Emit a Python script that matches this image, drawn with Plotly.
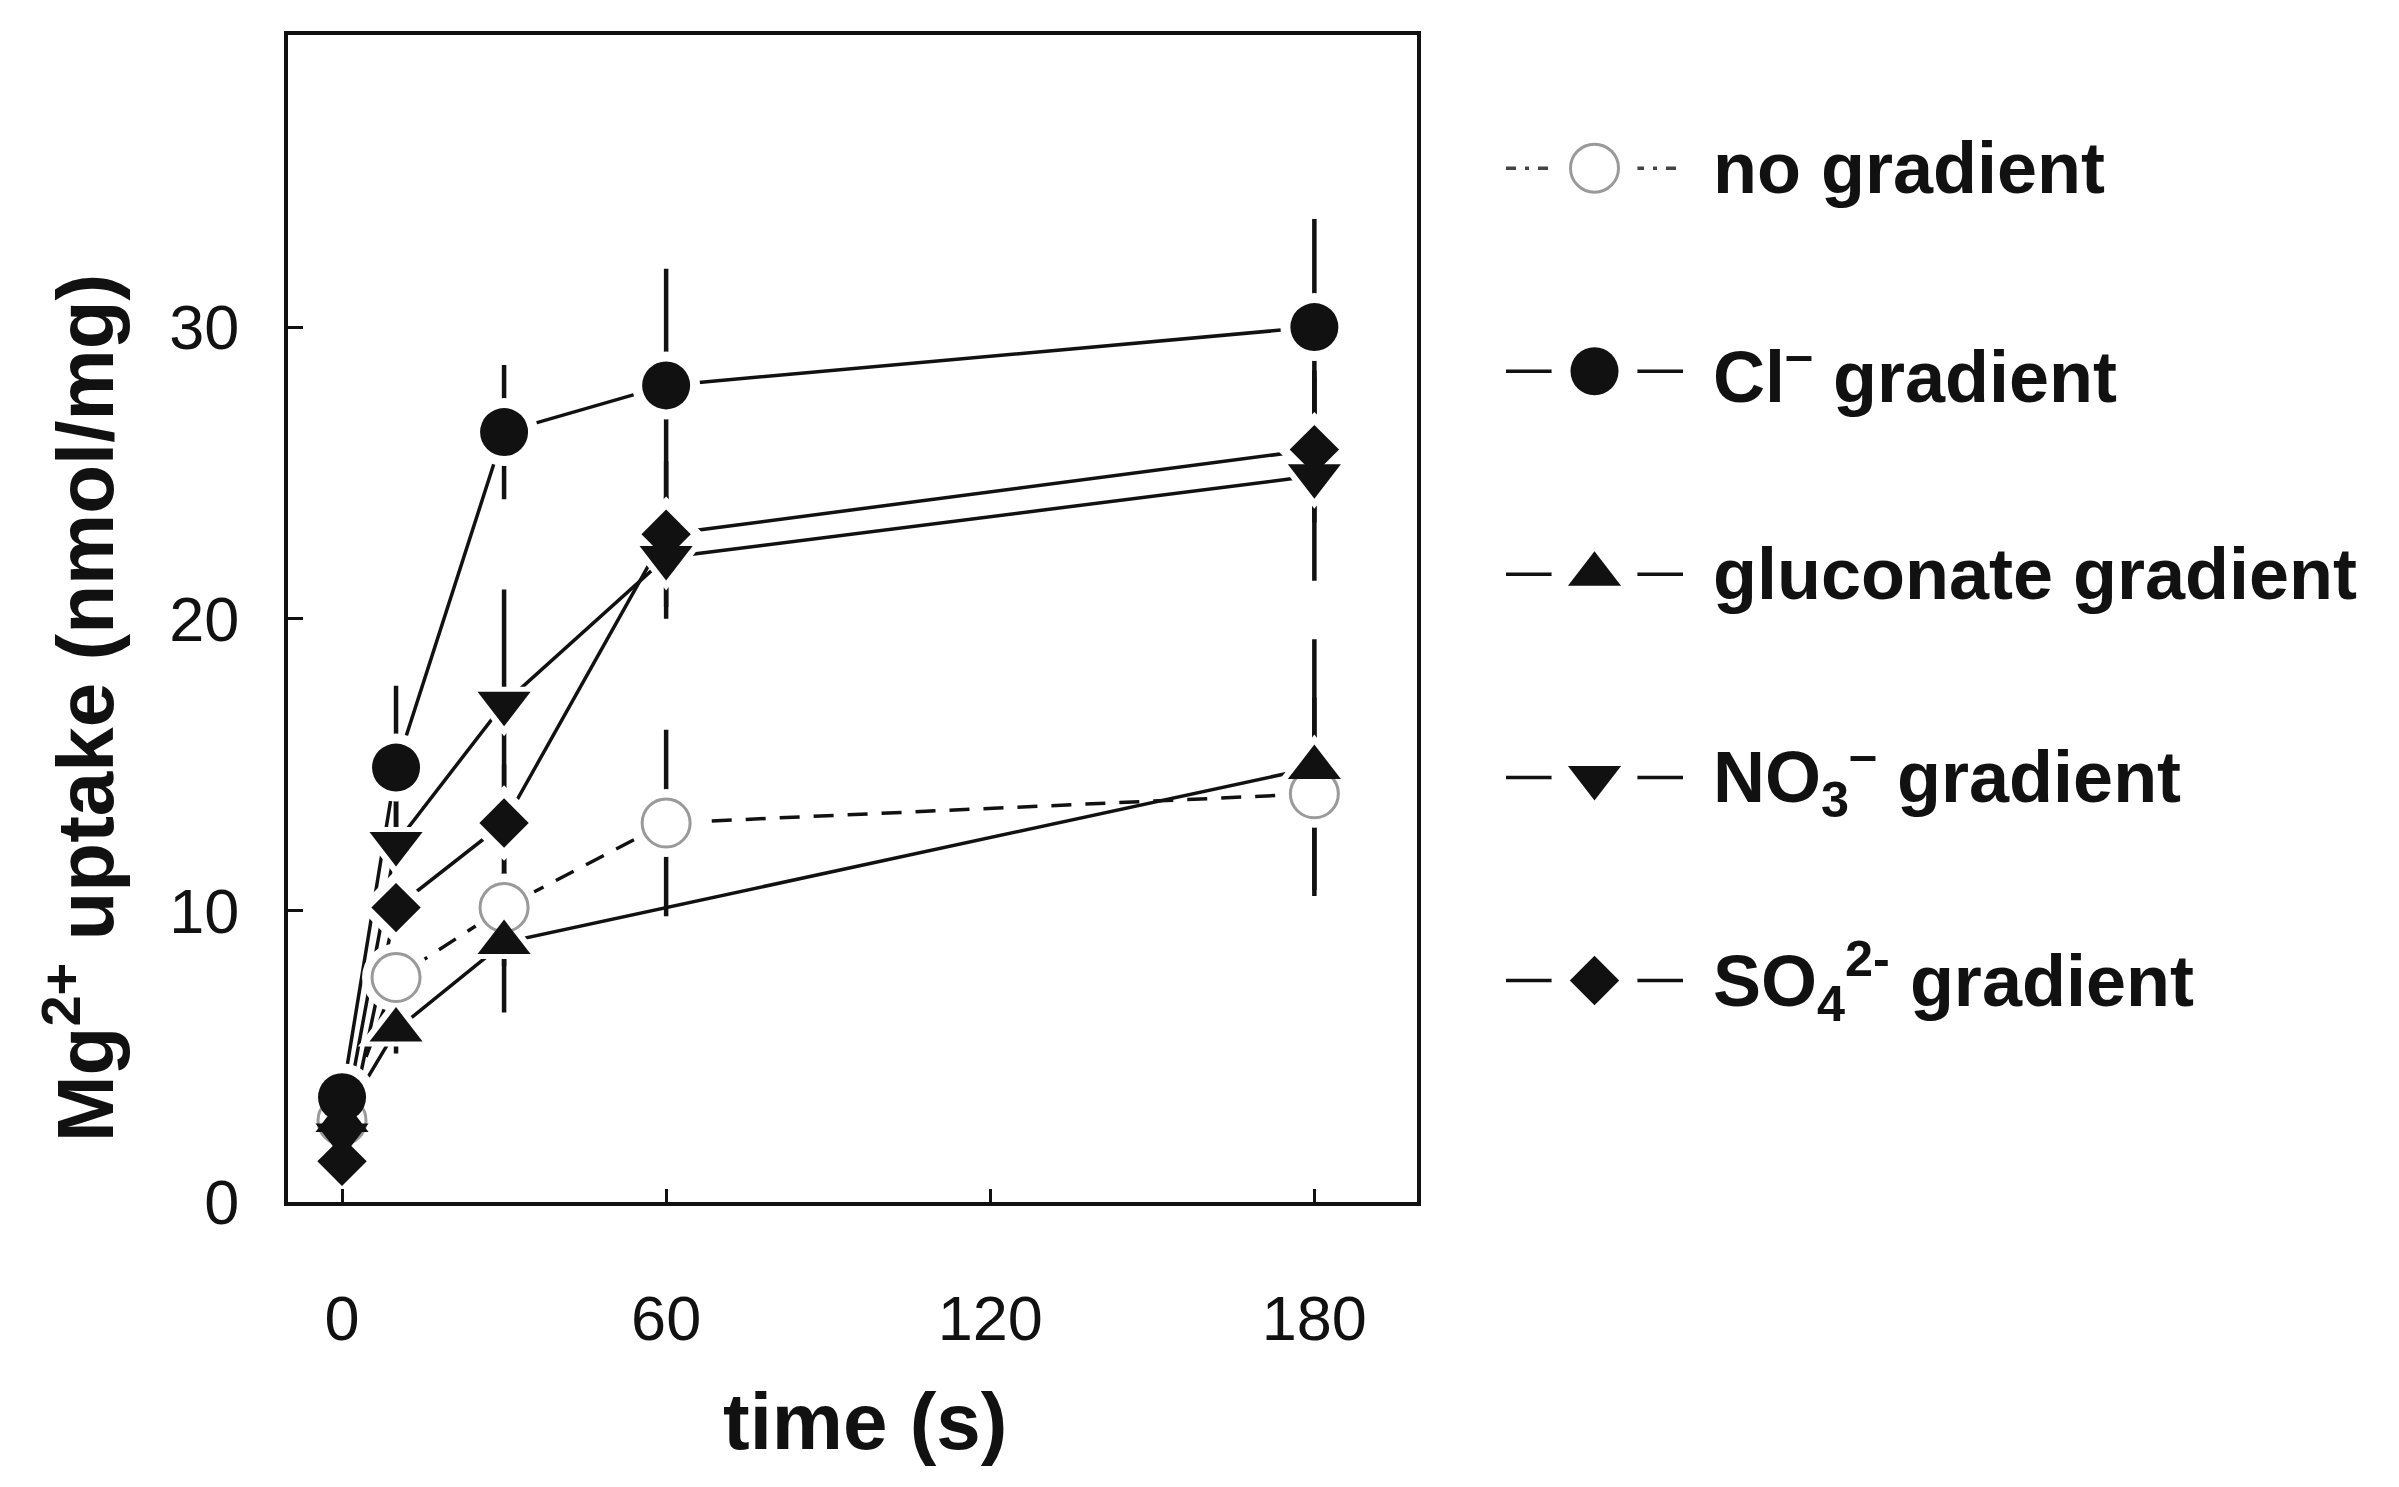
import plotly.graph_objects as go

# ---------------- data ----------------
TIME = [0, 10, 30, 60, 180]
TIME_GLUC = [0, 10, 30, 180]

NO_GRAD = [2.8, 7.7, 10.1, 13.0, 14.0]
NO_GRAD_ERR = [0.3, 1.0, 2.0, 3.2, 3.3]

CL = [3.6, 14.9, 26.4, 28.0, 30.0]
CL_ERR = [0.4, 2.8, 2.3, 4.0, 3.7]

GLUC = [2.8, 5.9, 8.9, 14.9]
GLUC_ERR = [0.3, 0.8, 2.4, 4.4]

NO3 = [2.3, 12.3, 17.1, 22.1, 24.9]
NO3_ERR = [0.4, 1.5, 3.9, 2.1, 3.6]

SO4 = [1.4, 10.1, 13.0, 22.9, 25.8]
SO4_ERR = [1.2, 1.0, 2.0, 2.5, 2.5]

X_TICKS = [0, 60, 120, 180]
Y_TICKS = [0, 10, 20, 30]

LABELS = [
    "no gradient",
    "Cl<sup>–</sup> gradient",
    "gluconate gradient",
    "NO<sub>3</sub><sup>–</sup> gradient",
    "SO<sub>4</sub><sup>2-</sup> gradient",
]

# ---------------- styles ----------------
W, H = 2399, 1487
BLACK = "#111111"
GRAY = "#9a9a9a"
FONT = "Liberation Sans, Arial, Helvetica, sans-serif"

series = [
    dict(x=TIME, y=NO_GRAD, e=NO_GRAD_ERR, sym="circle", size=48, fill="white",
         edge=GRAY, edgew=3, dash="20px,14px"),
    dict(x=TIME, y=CL, e=CL_ERR, sym="circle", size=48, fill=BLACK,
         edge=BLACK, edgew=0, dash="solid"),
    dict(x=TIME_GLUC, y=GLUC, e=GLUC_ERR, sym="triangle-up", size=46, fill=BLACK,
         edge=BLACK, edgew=0, dash="solid"),
    dict(x=TIME, y=NO3, e=NO3_ERR, sym="triangle-down", size=46, fill=BLACK,
         edge=BLACK, edgew=0, dash="solid"),
    dict(x=TIME, y=SO4, e=SO4_ERR, sym="diamond", size=38, fill=BLACK,
         edge=BLACK, edgew=0, dash="solid"),
]

fig = go.Figure()

# lines + error bars
for s in series:
    fig.add_trace(go.Scatter(
        x=s["x"], y=s["y"], mode="lines",
        line=dict(color=BLACK, width=3.5, dash=s["dash"]),
        error_y=dict(type="data", array=s["e"], visible=True, width=0,
                     thickness=4.5, color=BLACK),
        showlegend=False, hoverinfo="skip"))

# white halos that break lines near markers
for s in series:
    fig.add_trace(go.Scatter(
        x=s["x"], y=s["y"], mode="markers",
        marker=dict(symbol=s["sym"], size=s["size"] + 20, color="white",
                    line=dict(width=0)),
        showlegend=False, hoverinfo="skip"))

# markers
for s in series:
    fig.add_trace(go.Scatter(
        x=s["x"], y=s["y"], mode="markers",
        marker=dict(symbol=s["sym"], size=s["size"], color=s["fill"],
                    line=dict(color=s["edge"], width=s["edgew"])),
        showlegend=False))

# ---------------- custom legend (on its own hidden axes) ----------------
GLYPH_X = [0, 1, 2]
for i, s in enumerate(series):
    legend_dash = "10px,9px,4px,9px" if s["dash"] != "solid" else "solid"
    legend_col = "#444444" if s["dash"] != "solid" else BLACK
    fig.add_trace(go.Scatter(
        x=[GLYPH_X[0], GLYPH_X[2]], y=[i, i], mode="lines",
        line=dict(color=legend_col, width=3.5, dash=legend_dash),
        xaxis="x2", yaxis="y2", showlegend=False, hoverinfo="skip"))
    fig.add_trace(go.Scatter(
        x=[GLYPH_X[1]], y=[i], mode="markers",
        marker=dict(symbol="circle", size=86, color="white"),
        xaxis="x2", yaxis="y2", showlegend=False, hoverinfo="skip"))
    fig.add_trace(go.Scatter(
        x=[GLYPH_X[1]], y=[i], mode="markers",
        marker=dict(symbol=s["sym"], size=s["size"], color=s["fill"],
                    line=dict(color=s["edge"], width=s["edgew"])),
        xaxis="x2", yaxis="y2", showlegend=False, hoverinfo="skip"))
    fig.add_annotation(
        x=1703 / W, xref="paper", xanchor="left",
        y=i, yref="y2", yanchor="middle",
        text=LABELS[i], showarrow=False,
        font=dict(family=FONT, size=72, color=BLACK, weight="bold"))

# axis titles as annotations
fig.add_annotation(
    x=857 / W, y=(H - 1448) / H, xref="paper", yref="paper",
    xanchor="center", yanchor="middle", showarrow=False,
    text="time (s)", font=dict(family=FONT, size=80, color=BLACK, weight="bold"))
fig.add_annotation(
    x=72 / W, y=(H - 717) / H, xref="paper", yref="paper",
    xanchor="center", yanchor="middle", showarrow=False, textangle=-90,
    text="Mg<sup>2+</sup> uptake (nmol/mg)",
    font=dict(family=FONT, size=80, color=BLACK, weight="bold"))

fig.update_layout(
    width=W, height=H,
    margin=dict(l=0, r=0, t=0, b=0),
    paper_bgcolor="white", plot_bgcolor="white",
    showlegend=False,
    font=dict(family=FONT, color=BLACK),
    xaxis=dict(
        domain=[280 / W, 1409 / W], range=[-10, 199],
        tickmode="array", tickvals=X_TICKS,
        ticks="inside", ticklen=13, tickwidth=3, tickcolor=BLACK,
        showline=True, linewidth=4, linecolor=BLACK, mirror=True,
        showgrid=False, zeroline=False,
        tickfont=dict(family=FONT, size=63, color=BLACK),
        ticklabelstandoff=58,
    ),
    yaxis=dict(
        domain=[(H - 1223) / H, (H - 28) / H], range=[0, 40],
        tickmode="array", tickvals=Y_TICKS,
        ticks="inside", ticklen=15, tickwidth=3, tickcolor=BLACK,
        showline=True, linewidth=4, linecolor=BLACK, mirror=True,
        showgrid=False, zeroline=False,
        tickfont=dict(family=FONT, size=63, color=BLACK),
        ticklabelstandoff=32,
    ),
    xaxis2=dict(
        domain=[1498 / W, 1675 / W], range=[0, 2], anchor="y2",
        visible=False, fixedrange=True),
    yaxis2=dict(
        domain=[(H - 1100) / H, (H - 60) / H], range=[4.5, -0.5],
        anchor="x2", visible=False, fixedrange=True),
)

fig.write_html("out.html")
